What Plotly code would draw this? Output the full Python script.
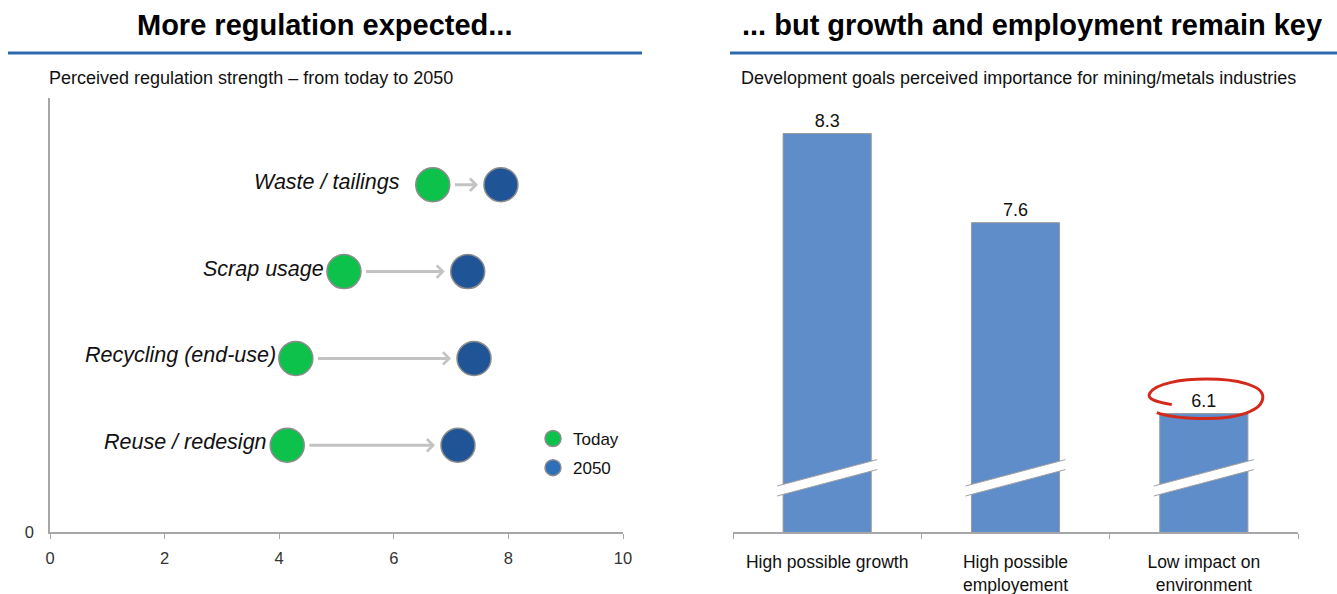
import plotly.graph_objects as go

# Perceived regulation strength per topic (top row first)
topics = ["Waste / tailings", "Scrap usage", "Recycling (end-use)", "Reuse / redesign"]
today = [6.68, 5.13, 4.29, 4.14]
year_2050 = [7.87, 7.29, 7.40, 7.12]
rows = [4, 3, 2, 1]
x_ticks = [0, 2, 4, 6, 8, 10]

# Development goals importance
goals = ["High possible growth", "High possible<br>employement", "Low impact on<br>environment"]
importance = [8.3, 7.6, 6.1]
highlighted_goal = 2

# ---- page geometry (pixels) ----
W, H = 1337, 594
FONT = "Liberation Sans, Arial, sans-serif"
GREEN = "#0DC24B"
DARK_BLUE = "#1F5597"
LEGEND_BLUE = "#2F6FB8"
BAR_BLUE = "#5E8DC9"
AXIS_GRAY = "#A6A6A6"
TITLE_BLUE = "#2E6AB0"

# gap between each topic label and its first marker
label_gap = [31, 18, 18, 18]


def fx(p):
    return p / W


def fy(p):
    return 1 - p / H


L_X0, L_X1, L_TOP, L_BOT = 50, 623, 98, 532
R_X0, R_X1, R_TOP, R_BOT = 733, 1298, 98, 532

Y2_BASE = 5.17                      # broken value axis starts here
PX_PER_UNIT = 127.3
Y2_TOP = Y2_BASE + (R_BOT - R_TOP) / PX_PER_UNIT
PX_PER_CAT = (R_X1 - R_X0) / len(goals)


def cat_off(dx_px):
    return dx_px / PX_PER_CAT


def val_off(dy_px):
    return dy_px / PX_PER_UNIT


fig = go.Figure()

marker_line = dict(color="#8C8C8C", width=1.5)

fig.add_trace(go.Scatter(
    x=today, y=rows, mode="markers", xaxis="x", yaxis="y",
    marker=dict(size=34, color=GREEN, line=marker_line),
    showlegend=False, hoverinfo="skip"))
fig.add_trace(go.Scatter(
    x=year_2050, y=rows, mode="markers", xaxis="x", yaxis="y",
    marker=dict(size=34, color=DARK_BLUE, line=marker_line),
    showlegend=False, hoverinfo="skip"))

# legend entries
fig.add_trace(go.Scatter(
    x=[None], y=[None], mode="markers", name="Today", legendgroup="a",
    marker=dict(size=20, color=GREEN, line=marker_line)))
fig.add_trace(go.Scatter(
    x=[None], y=[None], mode="markers", name="2050", legendgroup="b",
    marker=dict(size=20, color=LEGEND_BLUE, line=marker_line)))

fig.add_trace(go.Bar(
    x=goals, y=importance, xaxis="x2", yaxis="y2",
    marker=dict(color=BAR_BLUE, line=dict(color="#9A9A9A", width=1)),
    text=[f"{v:.1f}" for v in importance], textposition="outside",
    textfont=dict(size=18, color="#111111", family=FONT),
    cliponaxis=False, showlegend=False, hoverinfo="skip"))

annotations = []
shapes = []

# topic labels and arrows
for name, t0, t1, r, gap in zip(topics, today, year_2050, rows, label_gap):
    annotations.append(dict(
        x=t0, y=r, xref="x", yref="y", text=f"<i>{name}</i>", showarrow=False,
        xanchor="right", yanchor="middle", xshift=-gap, yshift=3,
        font=dict(size=21.5, color="#111111", family=FONT)))
    annotations.append(dict(
        x=t1 - 0.40, y=r, ax=t0 + 0.36, ay=r, xref="x", yref="y",
        axref="x", ayref="y", text="", showarrow=True,
        arrowhead=4, arrowsize=0.8, arrowwidth=3, arrowcolor="#C3C3C3"))

# titles, subtitles
annotations += [
    dict(x=fx(324), y=fy(25), xref="paper", yref="paper", showarrow=False,
         xanchor="center", yanchor="middle",
         text="<b>More regulation expected...</b>",
         font=dict(size=29, color="#000000", family=FONT)),
    dict(x=fx(1032), y=fy(25), xref="paper", yref="paper", showarrow=False,
         xanchor="center", yanchor="middle",
         text="<b>... but growth and employment remain key</b>",
         font=dict(size=29, color="#000000", family=FONT)),
    dict(x=fx(47), y=fy(78), xref="paper", yref="paper", showarrow=False,
         xanchor="left", yanchor="middle",
         text="Perceived regulation strength \u2013 from today to 2050",
         font=dict(size=18, color="#111111", family=FONT)),
    dict(x=fx(739), y=fy(78), xref="paper", yref="paper", showarrow=False,
         xanchor="left", yanchor="middle",
         text="Development goals perceived importance for mining/metals industries",
         font=dict(size=18, color="#111111", family=FONT)),
]

shapes += [
    dict(type="line", xref="paper", yref="paper", x0=fx(8), x1=fx(642), y0=fy(53), y1=fy(53),
         line=dict(color=TITLE_BLUE, width=3)),
    dict(type="line", xref="paper", yref="paper", x0=fx(730), x1=fx(1337), y0=fy(53), y1=fy(53),
         line=dict(color=TITLE_BLUE, width=3)),
]

# axis-break bands across each bar
for i in range(len(goals)):
    xl, xr = i + cat_off(-50), i + cat_off(50)
    yl, yr = Y2_BASE + val_off(41), Y2_BASE + val_off(67.4)
    h = val_off(5)
    shapes.append(dict(
        type="path", xref="x2", yref="y2",
        path=f"M{xl},{yl + h} L{xr},{yr + h} L{xr},{yr - h} L{xl},{yl - h} Z",
        fillcolor="white", line=dict(width=0)))
    for s in (h, -h):
        shapes.append(dict(type="line", xref="x2", yref="y2",
                           x0=xl, y0=yl + s, x1=xr, y1=yr + s,
                           line=dict(color="#A0A0A0", width=1)))

# hand-drawn loop around the highlighted value
cx, cy = highlighted_goal + cat_off(3), importance[highlighted_goal] + val_off(14.5)
pts = [(-35, 5.5),
       (-50, 3), (-61, 0), (-57, -6),
       (-51, -16), (-25, -20), (0, -20),
       (30, -20), (56, -14), (56, -2),
       (56, 12), (30, 19.5), (0, 19.5),
       (-20, 19.5), (-40, 17), (-50, 13.5)]


def P(p):
    return f"{cx + cat_off(p[0])},{cy - val_off(p[1])}"


loop = "M" + P(pts[0])
for k in range(1, len(pts), 3):
    loop += " C" + " ".join(P(q) for q in pts[k:k + 3])
shapes.append(dict(type="path", xref="x2", yref="y2", path=loop,
                   line=dict(color="#D42A1C", width=3)))

fig.update_layout(
    template="none",
    width=W, height=H, margin=dict(l=0, r=0, t=0, b=0, autoexpand=False),
    paper_bgcolor="white", plot_bgcolor="white",
    font=dict(family=FONT, size=15, color="#222222"),
    bargap=0.532,
    xaxis=dict(domain=[fx(L_X0), fx(L_X1)], range=[0, 10], anchor="y",
               automargin=False,
               tickvals=x_ticks, ticks="outside", ticklen=5, tickcolor=AXIS_GRAY,
               showline=True, linecolor=AXIS_GRAY, linewidth=1.5,
               showgrid=False, zeroline=False, ticklabelstandoff=5,
               tickfont=dict(size=16.5, color="#333333")),
    yaxis=dict(domain=[fy(L_BOT), fy(L_TOP)], range=[0, 5], anchor="x",
               automargin=False,
               tickvals=[0], ticks="", showline=True, linecolor=AXIS_GRAY,
               linewidth=1.5, showgrid=False, zeroline=False, ticklabelstandoff=11,
               tickfont=dict(size=16.5, color="#333333")),
    xaxis2=dict(domain=[fx(R_X0), fx(R_X1)], anchor="y2", type="category",
                automargin=False,
                range=[-0.5, len(goals) - 0.5], tickson="boundaries",
                ticks="outside", ticklen=5, tickcolor=AXIS_GRAY,
                showline=True, linecolor=AXIS_GRAY, linewidth=1.5,
                showgrid=False, zeroline=False, ticklabelstandoff=13,
                tickfont=dict(size=17.5, color="#111111")),
    yaxis2=dict(domain=[fy(R_BOT), fy(R_TOP)], anchor="x2", automargin=False,
                range=[Y2_BASE, Y2_TOP], visible=False),
    legend=dict(x=fx(533), y=fy(421), xanchor="left", yanchor="top",
                bgcolor="rgba(0,0,0,0)", traceorder="grouped", tracegroupgap=4,
                font=dict(size=17, color="#111111")),
    annotations=annotations, shapes=shapes,
)

fig.write_html("out.html")
